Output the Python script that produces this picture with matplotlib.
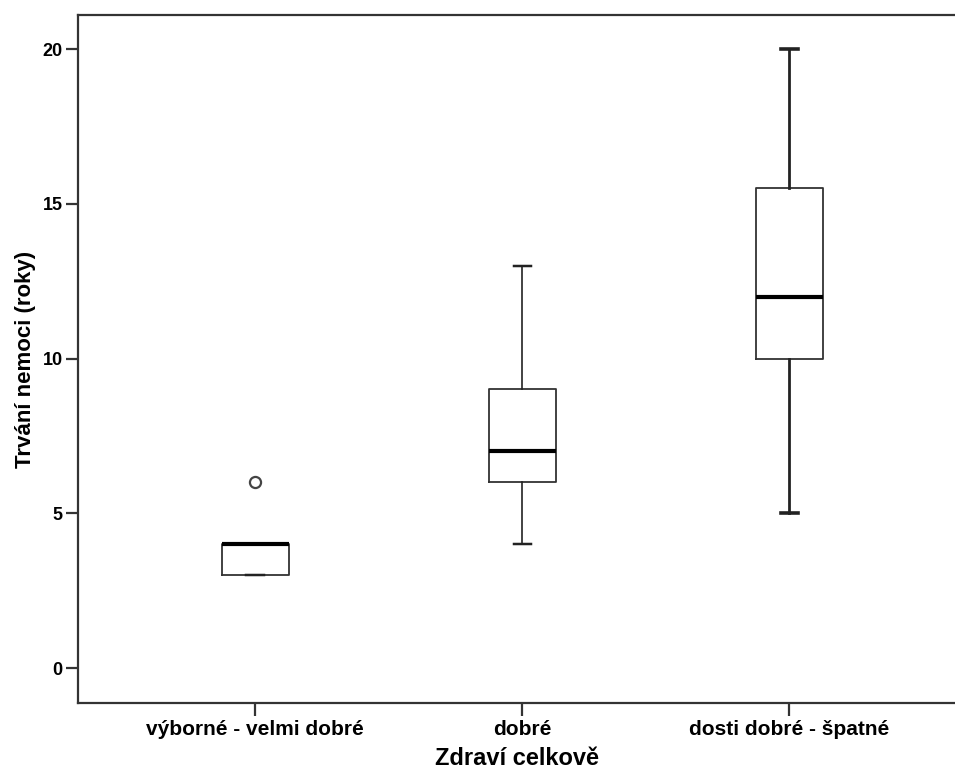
#!/usr/bin/env python3
"""Boxplot of illness duration by self-rated overall health."""

import matplotlib
matplotlib.use("Agg")
import matplotlib.pyplot as plt

categories = ["výborné - velmi dobré", "dobré", "dosti dobré - špatné"]
whislo = [3, 4, 5]
q1 = [3, 6, 10]
median = [4, 7, 12]
q3 = [4, 9, 15.5]
whishi = [4, 13, 20]
fliers = [[6], [], []]

y_ticks = [0, 5, 10, 15, 20]

plt.rcParams["font.family"] = ["Liberation Sans", "DejaVu Sans"]
plt.rcParams["font.weight"] = "bold"

fig = plt.figure(figsize=(9.55, 7.74), dpi=100)
ax = fig.add_axes([78 / 955, 1 - 703 / 774, (955 - 78) / 955, (703 - 15) / 774])

stats = []
for i, name in enumerate(categories):
    stats.append(dict(label=name, whislo=whislo[i], q1=q1[i], med=median[i],
                      q3=q3[i], whishi=whishi[i], fliers=fliers[i]))

edge = "#333333"
pos = list(range(len(categories)))
for i, st in enumerate(stats):
    # the last group is drawn with heavier whiskers
    wlw = 2.0 if i == 2 else 1.2
    ax.bxp([st], positions=[pos[i]], widths=0.25, capwidths=0.065,
           boxprops=dict(color=edge, linewidth=1.3),
           medianprops=dict(color="black", linewidth=3),
           whiskerprops=dict(color="#222222", linewidth=wlw),
           capprops=dict(color="#222222", linewidth=wlw + 0.6),
           flierprops=dict(marker="o", markersize=8, markerfacecolor="none",
                           markeredgecolor="#444444", markeredgewidth=1.6))

ax.set_xlim(-0.663, 2.62)
ax.set_ylim(-1.13, 21.1)
ax.set_yticks(y_ticks)
ax.set_xticks(pos)
ax.set_xticklabels(categories)

for side in ["left", "top", "bottom"]:
    ax.spines[side].set_color("#333333")
    ax.spines[side].set_linewidth(1.6)
ax.spines["right"].set_visible(False)

ax.tick_params(axis="both", length=9, width=1.6, color="#333333", pad=2)
ax.tick_params(axis="y", labelsize=13)
ax.tick_params(axis="x", labelsize=15, pad=3)
for lab in ax.get_xticklabels() + ax.get_yticklabels():
    lab.set_fontweight("bold")

ax.set_xlabel("Zdraví celkově", fontsize=17, fontweight="bold", labelpad=6)
ax.set_ylabel("Trvání nemoci (roky)", fontsize=16, fontweight="bold", labelpad=5)

fig.savefig("out.png", dpi=100, facecolor="white")
